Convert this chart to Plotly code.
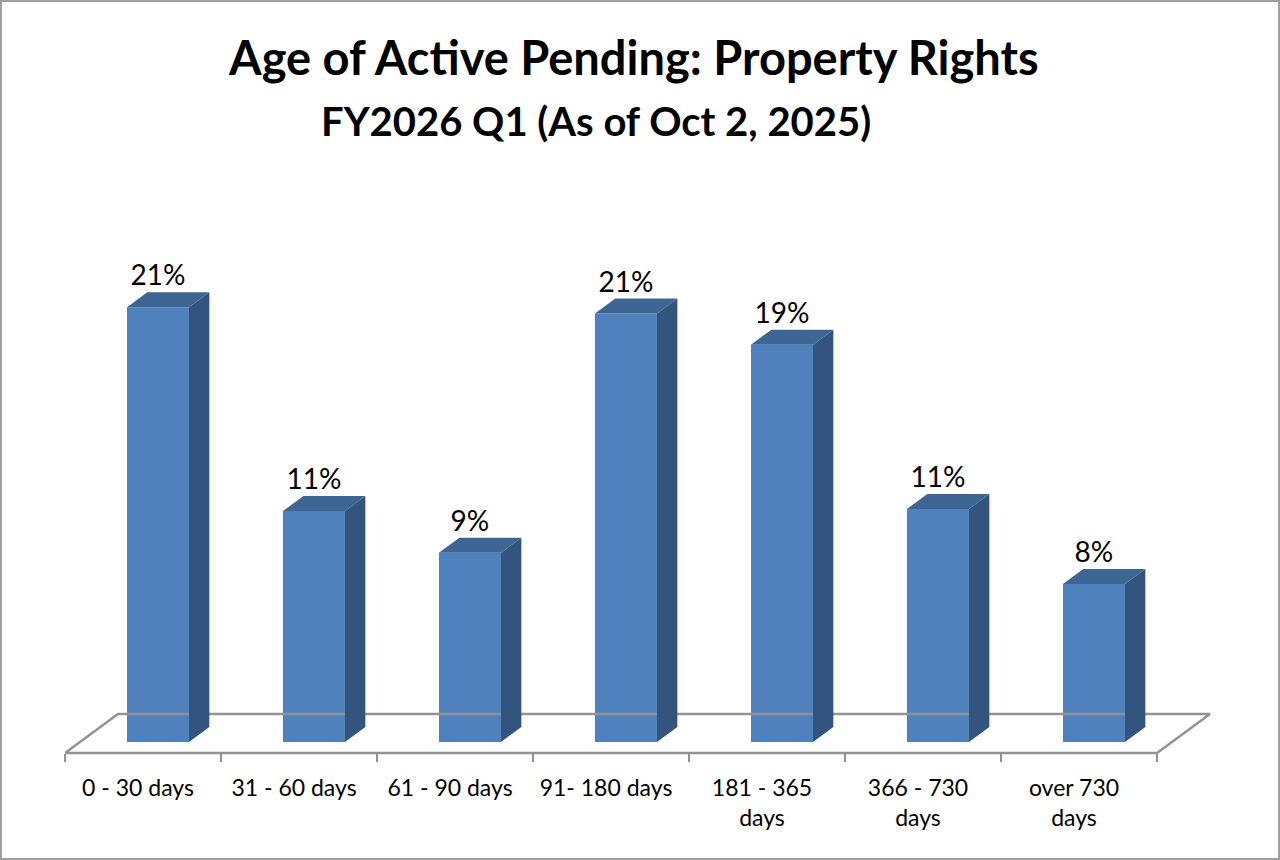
import plotly.graph_objects as go

# ---------------- data ----------------
categories = ["0 - 30 days", "31 - 60 days", "61 - 90 days", "91- 180 days",
              "181 - 365<br>days", "366 - 730<br>days", "over 730<br>days"]
values = [20.9, 11.1, 9.1, 20.6, 19.1, 11.2, 7.6]   # percent
title_text = "Age of Active Pending: Property Rights"
subtitle_text = "FY2026 Q1 (As of Oct 2, 2025)"

# ---------------- layout geometry (pixels) ----------------
W_PX, H_PX = 1280, 860
X_LEFT_PX, UNIT_PX = 65, 156        # x = -0.5 at 65px, 156px per category
Y0_PX, PCT_PX = 753, 20.8           # floor front edge, px per percent
X_MIN, X_MAX = -0.5, 7.0
Y_BOT_PX, Y_TOP_PX = 765, 240

x_dom = [X_LEFT_PX / W_PX, (X_LEFT_PX + (X_MAX - X_MIN) * UNIT_PX) / W_PX]
y_rng = [-(Y_BOT_PX - Y0_PX) / PCT_PX, (Y0_PX - Y_TOP_PX) / PCT_PX]
y_dom = [(H_PX - Y_BOT_PX) / H_PX, (H_PX - Y_TOP_PX) / H_PX]

# 3-D projection of depth (full floor depth) in data units
DX = 53 / UNIT_PX
DY = 39 / PCT_PX
Z0, ZB = 0.282, 0.385          # bar front depth, bar thickness (fraction of floor depth)
BAR_W = 62 / UNIT_PX
LABEL_SHIFT = -5 / UNIT_PX

FRONT = "#4F81BD"
SIDE = "#32547E"
TOP = "#3E6695"
FLOOR = "#939393"
FONT = "Lato"

n = len(categories)
pos = list(range(n))
base = Z0 * DY
off = Z0 * DX - BAR_W / 2
ddx, ddy = ZB * DX, ZB * DY

fig = go.Figure()

# floor outline
fx = [X_MIN, X_MIN + DX, n - 0.5 + DX, n - 0.5, X_MIN]
fy = [0, DY, DY, 0, 0]
fig.add_trace(go.Scatter(x=fx, y=fy, mode="lines", line=dict(color=FLOOR, width=2.5),
                         hoverinfo="skip", showlegend=False))

# bar front faces
fig.add_trace(go.Bar(x=pos, y=values, base=base, width=BAR_W, offset=off,
                     marker=dict(color=FRONT, line=dict(width=0)),
                     hoverinfo="skip", showlegend=False))

# side and top faces
sx, sy, tx, ty = [], [], [], []
for i, v in zip(pos, values):
    xl = i + off
    xr = xl + BAR_W
    top = base + v
    sx += [xr, xr + ddx, xr + ddx, xr, xr, None]
    sy += [base, base + ddy, top + ddy, top, base, None]
    tx += [xl, xl + ddx, xr + ddx, xr, xl, None]
    ty += [top, top + ddy, top + ddy, top, top, None]
fig.add_trace(go.Scatter(x=sx, y=sy, mode="lines", fill="toself", fillcolor=SIDE,
                         line=dict(width=0, color=SIDE), hoverinfo="skip", showlegend=False))
fig.add_trace(go.Scatter(x=tx, y=ty, mode="lines", fill="toself", fillcolor=TOP,
                         line=dict(width=0, color=TOP), hoverinfo="skip", showlegend=False))

# value labels
fig.add_trace(go.Scatter(x=[i + off + BAR_W / 2 for i in pos],
                         y=[base + v + ddy for v in values],
                         mode="text", text=[f"{v:.0f}%" for v in values],
                         textposition="top center",
                         textfont=dict(family=FONT, size=28, color="#000000"),
                         hoverinfo="skip", showlegend=False, cliponaxis=False))

axis_pos = (H_PX - Y0_PX) / H_PX
fig.update_layout(
    width=W_PX, height=H_PX,
    margin=dict(l=0, r=0, t=0, b=0),
    paper_bgcolor="white", plot_bgcolor="white",
    showlegend=False,
    xaxis=dict(domain=x_dom, range=[X_MIN, X_MAX], anchor="free", position=axis_pos,
               tickmode="array", tickvals=[i - 0.5 for i in range(n + 1)],
               ticktext=["" for _ in range(n + 1)],
               ticks="outside", ticklen=8, tickwidth=2, tickcolor=FLOOR,
               showline=False, showgrid=False, zeroline=False, fixedrange=True),
    xaxis2=dict(domain=x_dom, range=[X_MIN, X_MAX], overlaying="x", anchor="free",
                position=axis_pos, side="bottom",
                tickmode="array", tickvals=[p + LABEL_SHIFT for p in pos],
                ticktext=categories, ticks="",
                ticklabelstandoff=19,
                tickfont=dict(family=FONT, size=23, color="#000000"),
                showline=False, showgrid=False, zeroline=False, fixedrange=True),
    yaxis=dict(domain=y_dom, range=y_rng, visible=False, fixedrange=True),
    annotations=[
        dict(text=f"<b>{title_text}</b>", x=633 / W_PX, y=1 - 57 / H_PX,
             xref="paper", yref="paper", xanchor="center", yanchor="middle",
             showarrow=False, font=dict(family=FONT, size=47, color="#000000")),
        dict(text=f"<b>{subtitle_text}</b>", x=596 / W_PX, y=1 - 121 / H_PX,
             xref="paper", yref="paper", xanchor="center", yanchor="middle",
             showarrow=False, font=dict(family=FONT, size=40, color="#000000")),
    ],
    shapes=[dict(type="rect", xref="paper", yref="paper",
                 x0=1 / W_PX, x1=1 - 1 / W_PX, y0=1 / H_PX, y1=1 - 1 / H_PX,
                 line=dict(color="#A0A0A0", width=2), fillcolor="rgba(0,0,0,0)")],
)

# dummy trace so xaxis2 is rendered
fig.add_trace(go.Scatter(x=[None], y=[None], xaxis="x2", yaxis="y",
                         hoverinfo="skip", showlegend=False))

fig.write_html("out.html", config={"displayModeBar": False},
               post_script="document.body.style.margin='0';document.body.style.overflow='hidden';")
